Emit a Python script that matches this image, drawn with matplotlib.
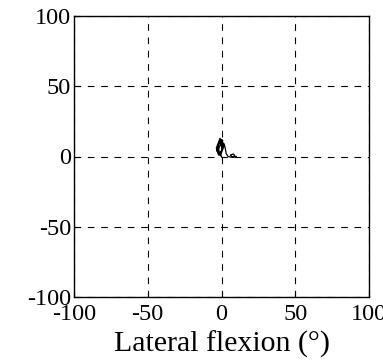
import matplotlib
matplotlib.use("Agg")
from matplotlib import pyplot as plt

plt.rcParams['font.family'] = ['Liberation Serif', 'DejaVu Serif']
plt.rcParams['axes.unicode_minus'] = False

# lateral flexion trace (deg): x = lateral flexion, y = second axis
flex_x = [0.0, -1.5, -2.5, -1.0, 0.5, -2.0, -3.5, -1.0, 1.2, -0.5, -3.2,
          -1.5, 0.3, 1.5, -0.8, -2.6, -0.5, 0.8, 0.2, 1.8, 2.5, 3.2,
          4.5, 6.5, 8.0, 9.0, 8.0, 6.0, 7.5, 10.0]
flex_y = [0.0, 3.0, 8.0, 11.0, 5.0, 1.0, 6.0, 13.0, 9.0, 2.0, 4.0,
          10.0, 12.0, 7.0, 0.5, 3.5, 9.5, 11.5, 8.0, 9.0, 6.0, 2.0,
          0.0, -0.5, -0.2, 0.8, 1.8, 1.0, -0.5, 0.0]

ticks = [-100, -50, 0, 50, 100]

fig = plt.figure(figsize=(3.83, 3.62), dpi=100)
ax = fig.add_axes((74 / 383, 1 - 297 / 362, 295 / 383, 281 / 362))

ax.plot(flex_x, flex_y, color='black', linewidth=0.9)

ax.set_xlim(-100, 100)
ax.set_ylim(-100, 100)
ax.set_xticks(ticks)
ax.set_yticks(ticks)
ax.grid(True, color='black', linestyle=(0, (6, 6)), linewidth=0.8)
ax.tick_params(direction='in', length=4, labelsize=17.5, color='black')
ax.tick_params(axis='x', pad=5)
ax.tick_params(axis='y', pad=2)
for sp in ax.spines.values():
    sp.set_linewidth(1.0)
ax.set_xlabel('Lateral flexion (°)', fontsize=21.5, labelpad=4)

fig.savefig('out.png', dpi=100)
